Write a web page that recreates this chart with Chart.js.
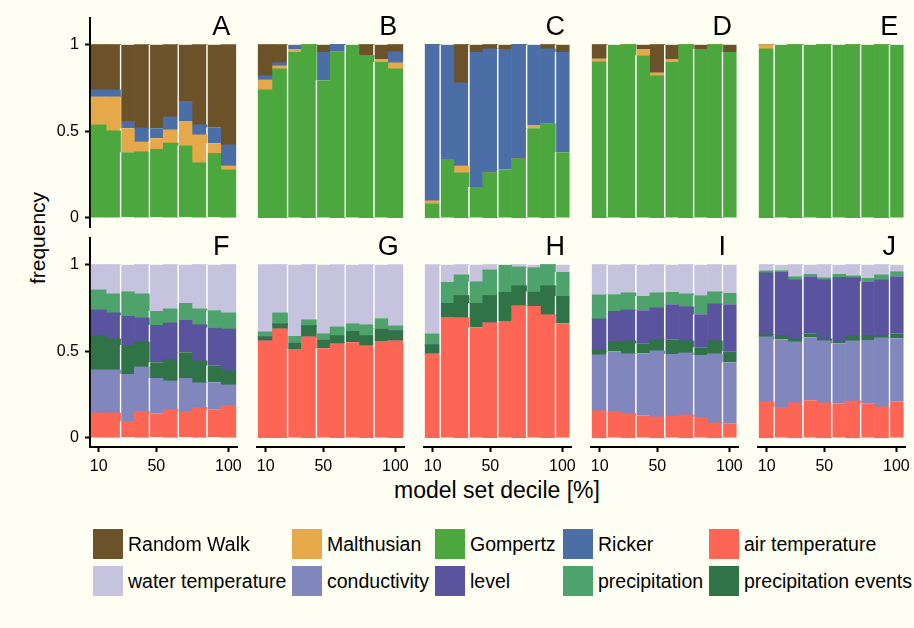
<!DOCTYPE html>
<html>
<head>
<meta charset="utf-8">
<script src="https://cdn.jsdelivr.net/npm/chart.js@4.4.1/dist/chart.umd.min.js"></script>
<style>
  html, body { margin: 0; padding: 0; background: #fefef2; }
  #figure {
    position: relative; width: 914px; height: 628px; overflow: hidden;
    background: #fefef2; color: #000;
    font-family: "Liberation Sans", Arial, Helvetica, sans-serif;
  }
  #figure canvas { position: absolute; }
  .axis-title { position: absolute; white-space: nowrap; line-height: 1; }
  #ytitle { left: 37px; top: 238px; font-size: 21px; transform: translate(-50%, -50%) rotate(-90deg); }
  #xtitle { left: 497px; top: 490px; font-size: 23px; transform: translate(-50%, -50%); }
  .key { position: absolute; height: 30px; display: flex; align-items: center; white-space: nowrap; font-size: 19.5px; }
  .key .sw { width: 30px; height: 30px; margin-right: 5px; flex: none; }
</style>
</head>
<body>
<div id="figure">
  <div id="ytitle" class="axis-title">frequency</div>
  <div id="xtitle" class="axis-title">model set decile [%]</div>
</div>
<script>
// x axis: decile of the ranked model set
const deciles = [10, 20, 30, 40, 50, 60, 70, 80, 90, 100];
const xTicks = [10, 50, 100];
const yTicks = [0, 0.5, 1];
const topLetters = ['A', 'B', 'C', 'D', 'E'];
const bottomLetters = ['F', 'G', 'H', 'I', 'J'];

// share of each model structure, one row per panel (A..E)
const gompertz = [
  [0.535, 0.50, 0.378, 0.378, 0.396, 0.43, 0.419, 0.315, 0.373, 0.274],
  [0.737, 0.859, 0.958, 1, 0.795, 0.958, 1, 0.934, 0.90, 0.859],
  [0.077, 0.338, 0.257, 0.176, 0.257, 0.28, 0.338, 0.517, 0.541, 0.378],
  [0.90, 1, 1, 0.94, 0.819, 0.90, 1, 0.975, 1, 0.958],
  [0.975, 1, 1, 1, 1, 1, 1, 1, 1, 1]
];
const malthusian = [
  [0.162, 0.197, 0.139, 0.058, 0.063, 0.076, 0.139, 0.162, 0.057, 0.023],
  [0.058, 0.017, 0.017, 0, 0, 0, 0, 0, 0.017, 0.035],
  [0.018, 0, 0.04, 0, 0, 0, 0, 0.018, 0, 0],
  [0.017, 0, 0, 0.035, 0.017, 0.017, 0, 0, 0, 0],
  [0.025, 0, 0, 0, 0, 0, 0, 0, 0, 0]
];
const ricker = [
  [0.04, 0.04, 0.041, 0.081, 0.058, 0.075, 0.116, 0.058, 0.093, 0.122],
  [0.024, 0.018, 0.025, 0, 0.163, 0.042, 0, 0, 0, 0.064],
  [0.905, 0.662, 0.481, 0.782, 0.718, 0.695, 0.662, 0.465, 0.434, 0.58],
  [0, 0, 0, 0, 0, 0, 0, 0, 0, 0],
  [0, 0, 0, 0, 0, 0, 0, 0, 0, 0]
];
const randomWalk = [
  [0.263, 0.263, 0.442, 0.483, 0.483, 0.419, 0.326, 0.465, 0.477, 0.581],
  [0.181, 0.106, 0, 0, 0.042, 0, 0, 0.066, 0.083, 0.042],
  [0, 0, 0.222, 0.042, 0.025, 0.025, 0, 0, 0.025, 0.042],
  [0.083, 0, 0, 0.025, 0.164, 0.083, 0, 0.025, 0, 0.042],
  [0, 0, 0, 0, 0, 0, 0, 0, 0, 0]
];

// share of each driver, one row per panel (F..J)
const airTemperature = [
  [0.141, 0.141, 0.095, 0.149, 0.137, 0.16, 0.153, 0.172, 0.16, 0.183],
  [0.558, 0.627, 0.512, 0.581, 0.517, 0.541, 0.552, 0.529, 0.558, 0.558],
  [0.483, 0.697, 0.691, 0.639, 0.662, 0.674, 0.761, 0.761, 0.708, 0.662],
  [0.153, 0.153, 0.137, 0.129, 0.118, 0.125, 0.129, 0.118, 0.083, 0.083],
  [0.205, 0.176, 0.199, 0.216, 0.199, 0.199, 0.21, 0.199, 0.176, 0.21]
];
const conductivity = [
  [0.249, 0.249, 0.272, 0.258, 0.207, 0.166, 0.191, 0.143, 0.16, 0.12],
  [0, 0, 0, 0, 0, 0, 0, 0, 0, 0],
  [0, 0, 0, 0, 0, 0, 0, 0, 0, 0],
  [0.324, 0.347, 0.346, 0.359, 0.382, 0.358, 0.359, 0.359, 0.40, 0.353],
  [0.376, 0.393, 0.353, 0.365, 0.359, 0.347, 0.348, 0.365, 0.399, 0.365]
];
const precipitationEvents = [
  [0.197, 0.179, 0.168, 0.145, 0.092, 0.122, 0.15, 0.127, 0.099, 0.081],
  [0.023, 0.029, 0.04, 0.064, 0.052, 0.046, 0.064, 0.058, 0.075, 0.058],
  [0.052, 0.081, 0.128, 0.139, 0.157, 0.168, 0.115, 0.086, 0.168, 0.157],
  [0.029, 0.058, 0.075, 0.058, 0.064, 0.086, 0.07, 0.046, 0.075, 0.064],
  [0.012, 0.024, 0.017, 0.023, 0.011, 0.012, 0.029, 0.029, 0.012, 0.029]
];
const level = [
  [0.15, 0.151, 0.173, 0.139, 0.215, 0.214, 0.186, 0.209, 0.22, 0.243],
  [0, 0, 0, 0, 0, 0, 0, 0, 0, 0],
  [0, 0, 0, 0, 0, 0, 0, 0, 0, 0],
  [0.179, 0.174, 0.179, 0.191, 0.185, 0.203, 0.197, 0.191, 0.214, 0.272],
  [0.359, 0.365, 0.342, 0.33, 0.342, 0.371, 0.336, 0.312, 0.324, 0.33]
];
const precipitation = [
  [0.116, 0.11, 0.139, 0.139, 0.081, 0.081, 0.098, 0.092, 0.098, 0.093],
  [0.029, 0.064, 0.035, 0.035, 0.035, 0.052, 0.046, 0.064, 0.058, 0.029],
  [0.063, 0.122, 0.121, 0.127, 0.15, 0.158, 0.11, 0.139, 0.124, 0.139],
  [0.139, 0.098, 0.099, 0.082, 0.087, 0.07, 0.075, 0.11, 0.07, 0.064],
  [0.011, 0.011, 0.018, 0.012, 0.012, 0.017, 0.011, 0.018, 0.029, 0.029]
];
const waterTemperature = [
  [0.147, 0.17, 0.153, 0.17, 0.268, 0.257, 0.222, 0.257, 0.263, 0.28],
  [0.39, 0.28, 0.413, 0.32, 0.396, 0.361, 0.338, 0.349, 0.309, 0.355],
  [0.402, 0.10, 0.06, 0.095, 0.031, 0, 0.014, 0.014, 0, 0.042],
  [0.176, 0.17, 0.164, 0.181, 0.164, 0.158, 0.17, 0.176, 0.158, 0.164],
  [0.037, 0.031, 0.071, 0.054, 0.077, 0.054, 0.066, 0.077, 0.06, 0.037]
];

// colours per category
const colors = {
  'Random Walk': '#6b5228',
  'Malthusian': '#e5a84b',
  'Gompertz': '#4ca73f',
  'Ricker': '#4b6ea6',
  'air temperature': '#fd6554',
  'water temperature': '#c6c3df',
  'conductivity': '#8187bd',
  'level': '#5a549f',
  'precipitation': '#4da36b',
  'precipitation events': '#2f7347'
};

// stacking order, bottom to top
const modelStack = [
  ['Gompertz', gompertz], ['Malthusian', malthusian], ['Ricker', ricker], ['Random Walk', randomWalk]
];
const driverStack = [
  ['air temperature', airTemperature], ['conductivity', conductivity],
  ['precipitation events', precipitationEvents], ['level', level],
  ['precipitation', precipitation], ['water temperature', waterTemperature]
];

const legendRows = [
  ['Random Walk', 'Malthusian', 'Gompertz', 'Ricker', 'air temperature'],
  ['water temperature', 'conductivity', 'level', 'precipitation', 'precipitation events']
];

// bars that get a thin white edge on their left side, per panel column
const whiteEdges = [[2, 4, 6, 8], [2, 4, 6, 8], [1, 3, 5, 7, 9], [1, 3, 5, 7, 9], [1, 3, 5, 7, 9]];

const FONT = '"Liberation Sans", Arial, Helvetica, sans-serif';
const fig = document.getElementById('figure');

// letter in the top right corner of each panel
const panelLetter = {
  id: 'panelLetter',
  afterDatasetsDraw(chart, args, opts) {
    const { ctx, scales: { x, y } } = chart;
    ctx.save();
    ctx.font = '27px ' + FONT;
    ctx.fillStyle = '#000';
    ctx.textAlign = 'center';
    ctx.textBaseline = 'middle';
    ctx.fillText(opts.text, x.getPixelForValue(95), y.getPixelForValue(1.1));
    ctx.restore();
  }
};

const PAD = 20;        // room above/below the plot area inside each canvas
const AXIS_W = 50;     // width kept for the y axis
const AXIS_H = 45;     // height kept for the x axis (bottom row)

function makePanel(row, col) {
  const bottom = row === 1;
  const first = col === 0;
  const stack = bottom ? driverStack : modelStack;
  const letter = bottom ? bottomLetters[col] : topLetters[col];
  const edges = whiteEdges[col];

  const w = AXIS_W + 147 + PAD;
  const h = PAD + 209 + (bottom ? AXIS_H : PAD);
  const canvas = document.createElement('canvas');
  canvas.width = w;
  canvas.height = h;
  canvas.style.width = w + 'px';
  canvas.style.height = h + 'px';
  canvas.style.left = (40 + 167 * col) + 'px';
  canvas.style.top = ((bottom ? 238 : 18) - PAD) + 'px';
  fig.appendChild(canvas);

  const datasets = stack.map(([name, rows]) => ({
    label: name,
    data: deciles.map((d, i) => ({ x: d, y: rows[col][i] })),
    backgroundColor: colors[name],
    borderColor: '#ffffff',
    borderSkipped: false,
    borderWidth: ctx => edges.includes(ctx.dataIndex) ? { left: 1.6, right: 0, top: 0, bottom: 0 } : 0,
    inflateAmount: 0.6,   // overlap neighbours so no seams show between bars
    barPercentage: 1,
    categoryPercentage: 1
  }));

  const tickFont = { family: FONT, size: 16 };

  new Chart(canvas, {
    type: 'bar',
    data: { datasets },
    plugins: [panelLetter],
    options: {
      responsive: false,
      maintainAspectRatio: false,
      animation: false,
      events: [],
      layout: { padding: { left: 0, right: PAD, top: PAD, bottom: bottom ? 0 : PAD } },
      plugins: {
        legend: { display: false },
        tooltip: { enabled: false },
        panelLetter: { text: letter }
      },
      scales: {
        x: {
          type: 'linear',
          stacked: true,
          min: 4,
          max: 106,
          offset: false,
          display: bottom,
          afterBuildTicks: s => { s.ticks = xTicks.map(v => ({ value: v })); },
          afterFit: s => { if (bottom) s.height = AXIS_H; },
          border: { display: true, color: '#000', width: 2 },
          grid: { display: true, offset: false, drawOnChartArea: false, drawTicks: true,
                  tickLength: 5, tickWidth: 2, tickColor: '#000' },
          ticks: { font: tickFont, color: '#000', padding: 5, maxRotation: 0, autoSkip: false,
                   callback: v => String(v) }
        },
        y: {
          type: 'linear',
          stacked: true,
          min: -0.055,
          max: 1.155,
          afterBuildTicks: s => { s.ticks = yTicks.map(v => ({ value: v })); },
          afterFit: s => { s.width = AXIS_W; },
          border: { display: first, color: '#000', width: 2 },
          grid: { display: first, drawOnChartArea: false, drawTicks: true,
                  tickLength: 5, tickWidth: 2, tickColor: '#000' },
          ticks: { display: first, font: tickFont, color: '#000', padding: 6,
                   callback: v => String(v) }
        }
      }
    }
  });
}

for (let r = 0; r < 2; r++) {
  for (let c = 0; c < 5; c++) makePanel(r, c);
}

// shared legend below the panels
const legendCols = [93, 292, 435, 563, 709];
const legendTops = [529, 566];
legendRows.forEach((names, r) => {
  names.forEach((name, c) => {
    const key = document.createElement('div');
    key.className = 'key';
    key.style.left = legendCols[c] + 'px';
    key.style.top = legendTops[r] + 'px';
    const sw = document.createElement('span');
    sw.className = 'sw';
    sw.style.background = colors[name];
    const label = document.createElement('span');
    label.textContent = name;
    key.appendChild(sw);
    key.appendChild(label);
    fig.appendChild(key);
  });
});
</script>
</body>
</html>
